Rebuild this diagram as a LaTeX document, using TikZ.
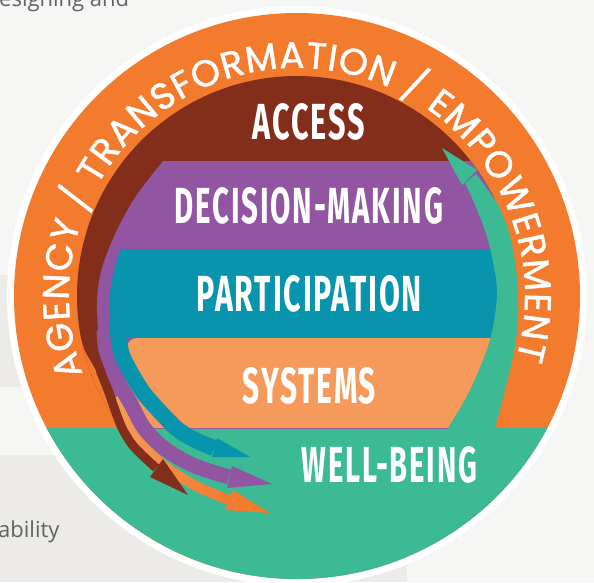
\documentclass[tikz,border=0pt]{standalone}
\usepackage{fontspec}
\usepackage{graphicx}
\usetikzlibrary{decorations.text}
\setmainfont{Open Sans}
\newfontfamily\ringfamily[FakeBold=1.2]{Poppins}
\newfontfamily\bandfamily[LetterSpace=6]{Fira Sans}
\definecolor{pagegrey}{HTML}{F6F6F4}
\definecolor{boxgrey}{HTML}{ECEBE8}
\definecolor{bodytext}{HTML}{626264}
\definecolor{ringorange}{HTML}{F37B2E}
\definecolor{accessbrown}{HTML}{832D1B}
\definecolor{decisionpurple}{HTML}{9155A2}
\definecolor{participationteal}{HTML}{0994AD}
\definecolor{systemsorange}{HTML}{F69A5B}
\definecolor{wellbeinggreen}{HTML}{3BBA94}
\tikzset{
    bandlabel/.style = {text=white, inner sep=0pt},
    bodynode/.style = {text=bodytext, inner sep=0pt, anchor=base west, font=\fontsize{22}{24}\selectfont},
    shaft/.style = {line width=14pt, line cap=butt}
}
\newcommand{\bandtext}[2]{\resizebox{#1pt}{36pt}{\bandfamily\bfseries #2}}

\begin{document}
\begin{tikzpicture}[x=1pt, y=-1pt]
    \useasboundingbox (0,0) rectangle (594,582);
    % page behind the disc
    \fill[pagegrey] (0,0) rectangle (594,582);
    \fill[boxgrey] (0,275) rectangle (300,387);
    \fill[boxgrey] (0,455) rectangle (407,582);
    \node[bodynode] (introtext) at (-1,6) {esigning and};
    \node[bodynode] (abilitytext) at (-2,537) {ability};

    % disc and ring
    \coordinate (centre) at (297,296);
    \fill[white] (centre) circle (290);
    \fill[ringorange] (centre) circle (283);
    \begin{scope}
        \clip (centre) circle (283);
        \fill[wellbeinggreen] (0,428) rectangle (594,582);
    \end{scope}

    % bands
    \begin{scope}
        \clip (centre) circle (220);
        \clip (0,0) rectangle (594,428);
        \fill[accessbrown] (0,0) rectangle (594,428);
        \fill[ringorange] (60,330) -- plot[smooth] coordinates
            {(79,330) (84.5,350) (95.5,370) (103.5,390) (111,410) (117.5,428)} -- (60,428) -- cycle;
        \fill[decisionpurple] (594,161) -- (163,161) -- plot[smooth] coordinates
            {(163,161) (136,196) (116,232) (102,268) (97,300) (99,340) (105,370) (113,395) (125,415) (136,430)}
            -- (594,430) -- cycle;
        \fill[participationteal] (594,249) -- (120,249) -- plot[smooth] coordinates
            {(120,249) (112,280) (110,300) (111,338)} -- (594,338) -- cycle;
        \fill[systemsorange] (594,338) [rounded corners=9] -- (128,338) -- (125,362) [sharp corners]
            -- (120,385) -- (128,403) -- (143,428) -- (594,428) -- cycle;
    \end{scope}

    % orange arrow, from light to strong
    \foreach \slice in {0,...,7} {
        \pgfmathsetmacro\mix{\slice*100/7}
        \begin{scope}
            \clip (108+\slice*16,380) rectangle ++(16.5,140);
            \draw[shaft, line width=10pt, ringorange!\mix!systemsorange] plot[smooth] coordinates
                {(114,398) (121,412) (131,428) (140,441) (150,453) (170,470) (198,487) (229,500)};
        \end{scope}
    }
    \fill[ringorange] (233,490) -- (225,510) -- (270,513) -- cycle;

    % arrow shafts into well-being
    \draw[shaft, line width=9pt, accessbrown] plot[smooth] coordinates
        {(100,370) (108,390) (115,410) (122,428) (131,443) (140,453) (156,468)};
    \fill[accessbrown] (150,477) -- (163,459) -- (188,495) -- cycle;
    \draw[shaft, line width=15pt, decisionpurple] plot[smooth] coordinates
        {(104,330) (106,350) (113.5,370) (121,387) (131,404) (144,428) (165,449) (195,466) (229,477)};
    \fill[decisionpurple] (232,466) -- (227,488) -- (272,484) -- cycle;
    \draw[shaft, line width=16pt, participationteal] plot[smooth] coordinates
        {(117,320) (118.5,338) (122,355) (129.5,370) (140,388) (152,403) (176,428) (195,440) (214,448)};
    \fill[participationteal] (217,438) -- (212,457) -- (250,457) -- cycle;

    % green arrow back up the right side
    \fill[wellbeinggreen] plot[smooth] coordinates
        {(440,440) (448,428) (470,390) (490,340) (497,290) (488,240) (475,205) (465,183)}
        -- plot[smooth] coordinates
        {(476,174) (498,205) (511,240) (518,290) (516,340) (505,390) (495,428) (492,440)}
        -- cycle;
    \fill[wellbeinggreen] (442,148) -- (462,185) -- (477,170) -- cycle;

    % ring text
    \path[decorate, decoration={text along path, text color=white, text align=fit to path,
        text={|\ringfamily\fontsize{37}{37}\selectfont|AGENCY / TRANSFORMATION / EMPOWERMENT}}]
        (centre) ++(-200:228) arc[start angle=-200, end angle=16, radius=228];

    % band labels
    \node[bandlabel] (access) at (309,121.5) {\bandtext{112}{ACCESS}};
    \node[bandlabel] (decision) at (309,205.5) {\bandtext{268}{DECISION-MAKING}};
    \node[bandlabel] (participation) at (309.5,294) {\bandtext{225}{PARTICIPATION}};
    \node[bandlabel] (systems) at (309.5,385.5) {\bandtext{133}{SYSTEMS}};
    \node[bandlabel] (wellbeing) at (389.5,465) {\bandtext{175}{WELL-BEING}};
\end{tikzpicture}
\end{document}
